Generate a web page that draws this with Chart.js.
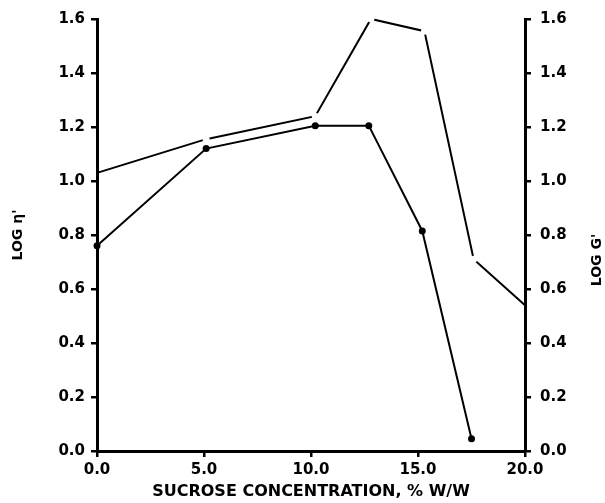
<!DOCTYPE html>
<html>
<head>
<meta charset="utf-8">
<script src="https://cdn.jsdelivr.net/npm/chart.js@4/dist/chart.umd.min.js"></script>
<style>
  html, body { margin: 0; padding: 0; background: #fff; }
  #wrap { width: 605px; height: 503px; }
</style>
</head>
<body>
<div id="wrap"><canvas id="c" width="605" height="503"></canvas></div>
<script>
// Data
const etaX = [0.0, 5.1, 10.2, 12.7, 15.2, 17.5];
const etaY = [0.76, 1.12, 1.205, 1.205, 0.815, 0.045];
const gX = [0.0, 5.1, 10.2, 12.8, 15.3, 17.6, 20.0];
const gY = [1.03, 1.155, 1.24, 1.60, 1.555, 0.71, 0.54];
const xTicks = [0, 5, 10, 15, 20];
const yTicks = [0, 0.2, 0.4, 0.6, 0.8, 1.0, 1.2, 1.4, 1.6];
const xTitle = 'SUCROSE CONCENTRATION, % W/W';
const leftTitle = "LOG \u03B7'";
const rightTitle = "LOG G'";

const FONT = '"DejaVu Sans", "Liberation Sans", Arial, sans-serif';
const tickFont = { family: FONT, size: 15, weight: 'bold' };

const rightTitlePlugin = {
  id: 'rightTitle',
  afterDraw(chart) {
    const s = chart.scales.y2;
    const ctx = chart.ctx;
    ctx.save();
    ctx.translate(s.right - 8, (s.top + s.bottom) / 2 + 25);
    ctx.rotate(-Math.PI / 2);
    ctx.font = 'bold 14px ' + FONT;
    ctx.textAlign = 'center';
    ctx.textBaseline = 'middle';
    ctx.fillStyle = '#000';
    ctx.fillText(rightTitle, 0, 0);
    ctx.restore();
  }
};

new Chart(document.getElementById('c'), {
  type: 'line',
  data: {
    datasets: [
      {
        label: leftTitle,
        data: etaX.map((x, i) => ({ x: x, y: etaY[i] })),
        yAxisID: 'y',
        borderColor: '#000',
        borderWidth: 2,
        pointRadius: 3.5,
        pointBackgroundColor: '#000',
        pointBorderColor: '#000',
        pointBorderWidth: 0,
        tension: 0,
        clip: false
      },
      {
        label: rightTitle,
        data: gX.map((x, i) => ({ x: x, y: gY[i] })),
        yAxisID: 'y2',
        borderColor: '#000',
        borderWidth: 2,
        pointRadius: gX.map((x, i) => (i === 0 || i === gX.length - 1) ? 0 : 3.5),
        pointBackgroundColor: '#fff',
        pointBorderColor: '#fff',
        pointBorderWidth: 0,
        tension: 0,
        clip: false
      }
    ]
  },
  options: {
    responsive: false,
    animation: false,
    devicePixelRatio: 1,
    layout: { padding: { top: 19, left: 0, right: 0, bottom: 0 } },
    plugins: { legend: { display: false }, tooltip: { enabled: false } },
    scales: {
      x: {
        type: 'linear',
        min: 0, max: 20,
        afterBuildTicks: (s) => { s.ticks = xTicks.map(v => ({ value: v })); },
        afterFit: (s) => { s.height = 52; },
        ticks: { font: tickFont, color: '#000', padding: 4, callback: (v) => v.toFixed(1), maxRotation: 0 },
        grid: { drawOnChartArea: false, drawTicks: true, tickLength: 6, color: '#000', lineWidth: 2.5 },
        border: { display: true, color: '#000', width: 3 },
        title: { display: true, text: xTitle, font: { family: FONT, size: 16, weight: 'bold', lineHeight: 1 }, color: '#000', padding: { top: 0, bottom: 3 } }
      },
      y: {
        position: 'left',
        min: 0, max: 1.6,
        afterBuildTicks: (s) => { s.ticks = yTicks.map(v => ({ value: v })); },
        afterFit: (s) => { s.width = 97; },
        ticks: { font: tickFont, color: '#000', padding: 6, callback: (v) => v.toFixed(1) },
        grid: { drawOnChartArea: false, drawTicks: true, tickLength: 6, color: '#000', lineWidth: 2.5 },
        border: { display: true, color: '#000', width: 3 },
        title: { display: true, text: leftTitle, font: { family: FONT, size: 14, weight: 'bold', lineHeight: 1.2 }, color: '#000', padding: { top: 10, bottom: 0 } }
      },
      y2: {
        position: 'right',
        min: 0, max: 1.6,
        afterBuildTicks: (s) => { s.ticks = yTicks.map(v => ({ value: v })); },
        afterFit: (s) => { s.width = 80; },
        ticks: { font: tickFont, color: '#000', padding: 9, callback: (v) => v.toFixed(1) },
        grid: { drawOnChartArea: false, drawTicks: true, tickLength: 6, color: '#000', lineWidth: 2.5 },
        border: { display: true, color: '#000', width: 3 },
        title: { display: false, text: rightTitle }
      }
    }
  },
  plugins: [rightTitlePlugin]
});
</script>
</body>
</html>
